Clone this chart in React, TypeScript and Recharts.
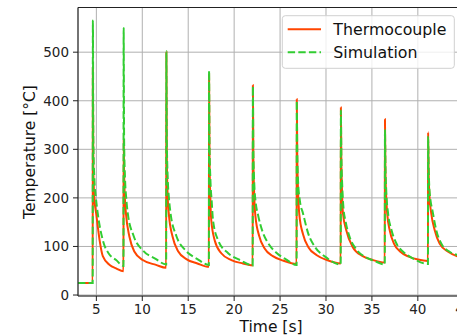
import { LineChart, Line, XAxis, YAxis, CartesianGrid, ReferenceLine } from 'recharts';

// time [s], temperature [°C]
const thermocouple: [number, number][] = [
  [3, 25], [4.6, 25],
  [4.62, 470], [4.67, 260], [4.78, 200], [5.0, 165], [5.35, 113], [5.7, 80], [6.45, 62], [7.15, 55], [7.95, 49],
  [7.97, 320], [8.02, 250], [8.1, 200], [8.22, 168], [8.6, 120], [9.15, 89], [10.05, 72], [11.5, 62], [12.6, 56],
  [12.62, 500], [12.67, 280], [12.75, 210], [12.9, 165], [13.3, 120], [13.9, 90], [14.8, 74], [16.0, 65], [17.25, 58],
  [17.27, 455], [17.32, 280], [17.4, 205], [17.51, 154], [17.88, 113], [18.6, 86], [19.7, 72], [20.95, 65], [22.02, 61],
  [22.04, 432], [22.09, 290], [22.17, 215], [22.32, 162], [22.72, 122], [23.32, 96], [24.22, 80], [25.32, 71], [26.8, 64],
  [26.82, 403], [26.87, 290], [26.95, 220], [27.1, 165], [27.5, 125], [28.1, 98], [29.0, 82], [30.1, 72], [31.6, 65],
  [31.62, 386], [31.67, 280], [31.75, 210], [31.85, 168], [32.2, 134], [32.9, 99], [34.0, 80], [35.1, 72], [36.4, 67],
  [36.42, 362], [36.47, 260], [36.55, 205], [36.68, 165], [36.95, 132], [37.4, 106], [38.1, 89], [39.0, 79], [40.0, 73], [41.1, 70],
  [41.12, 335], [41.17, 260], [41.26, 205], [41.46, 168], [41.83, 134], [42.37, 106], [43.3, 89], [44.4, 79], [45.5, 74],
];

const simulation: [number, number][] = [
  [3, 25], [4.6, 25],
  [4.62, 565], [4.67, 320], [4.78, 240], [4.95, 200], [5.15, 168], [5.7, 113], [6.4, 84], [7.15, 72], [7.95, 60],
  [7.97, 550], [8.02, 320], [8.12, 240], [8.25, 200], [8.42, 168], [9.05, 122], [10.1, 91], [11.4, 75], [12.6, 63],
  [12.62, 502], [12.67, 320], [12.77, 240], [12.9, 200], [13.08, 168], [13.7, 122], [14.7, 92], [16.0, 74], [17.25, 62],
  [17.27, 462], [17.32, 310], [17.42, 235], [17.55, 195], [17.7, 154], [18.25, 113], [19.35, 86], [20.65, 72], [22.02, 61],
  [22.04, 430], [22.09, 300], [22.19, 230], [22.35, 190], [22.6, 165], [23.1, 130], [23.8, 104], [24.6, 87], [25.6, 74], [26.8, 62],
  [26.82, 400], [26.87, 300], [26.97, 230], [27.15, 195], [27.5, 168], [28.06, 127], [28.8, 99], [29.9, 79], [31.6, 63],
  [31.62, 380], [31.67, 290], [31.77, 225], [31.9, 180], [32.15, 150], [32.6, 118], [33.3, 94], [34.3, 78], [35.3, 70], [36.4, 63],
  [36.42, 340], [36.47, 270], [36.56, 215], [36.76, 168], [37.13, 134], [37.67, 106], [38.4, 89], [39.5, 75], [41.1, 64],
  [41.12, 326], [41.17, 270], [41.27, 215], [41.65, 168], [42.0, 134], [42.55, 106], [43.46, 89], [44.4, 82], [45.5, 76],
];

const xTicks = [5, 10, 15, 20, 25, 30, 35, 40, 45];
const yTicks = [0, 100, 200, 300, 400, 500];

const FONT = '"DejaVu Sans", sans-serif';
const ORANGE = '#ff4500';
const GREEN = '#32cd32';

const toRows = (pts: [number, number][]) => pts.map(([t, v]) => ({ t, v }));

export default function App() {
  const tickStyle = { fontFamily: FONT, fontSize: 13.5, fill: '#222' };
  return (
    <div style={{ position: 'absolute', left: 0, top: 0, width: 457, height: 336, overflow: 'hidden', background: '#fff' }}>
      <LineChart width={480} height={336} margin={{ top: 7.5, right: 14.4, bottom: 0, left: 0 }}>
        <CartesianGrid stroke="#b0b0b0" strokeWidth={1} />
        <XAxis
          type="number"
          dataKey="t"
          domain={[3, 45.2]}
          ticks={xTicks}
          allowDataOverflow
          height={40}
          tick={tickStyle}
          tickSize={5}
          tickMargin={3}
          axisLine={{ stroke: '#222', strokeWidth: 1.1 }}
          tickLine={{ stroke: '#222' }}
        />
        <YAxis
          type="number"
          dataKey="v"
          domain={[-2, 592]}
          ticks={yTicks}
          allowDataOverflow
          width={78}
          tick={tickStyle}
          tickSize={5}
          tickMargin={4}
          axisLine={{ stroke: '#222', strokeWidth: 1.1 }}
          tickLine={{ stroke: '#222' }}
        />
        <ReferenceLine y={592} stroke="#222" strokeWidth={1.1} />
        <Line
          data={toRows(thermocouple)}
          dataKey="v"
          type="monotone"
          stroke={ORANGE}
          strokeWidth={2}
          dot={false}
          activeDot={false}
          isAnimationActive={false}
        />
        <Line
          data={toRows(simulation)}
          dataKey="v"
          type="monotone"
          stroke={GREEN}
          strokeWidth={2}
          strokeDasharray="7.4 3.2"
          dot={false}
          activeDot={false}
          isAnimationActive={false}
        />
      </LineChart>
      <svg width={457} height={336} style={{ position: 'absolute', left: 0, top: 0, pointerEvents: 'none' }}>
        <text
          transform="translate(34.6,152) rotate(-90)"
          textAnchor="middle"
          fontFamily={FONT}
          fontSize={15.5}
          fill="#111"
        >
          Temperature [°C]
        </text>
        <text x={271} y={332.3} textAnchor="middle" fontFamily={FONT} fontSize={15.5} fill="#111">
          Time [s]
        </text>
        <rect x={282.3} y={15.7} width={172} height={52.6} rx={3} fill="rgba(255,255,255,0.8)" stroke="#d0d0d0" strokeWidth={1} />
        <line x1={287.7} y1={29.3} x2={321} y2={29.3} stroke={ORANGE} strokeWidth={2} />
        <line x1={287.7} y1={52.3} x2={321} y2={52.3} stroke={GREEN} strokeWidth={2} strokeDasharray="7.4 3.2" />
        <text x={333.3} y={35} fontFamily={FONT} fontSize={15.8} fill="#111">Thermocouple</text>
        <text x={333.3} y={58.3} fontFamily={FONT} fontSize={15.8} fill="#111">Simulation</text>
      </svg>
    </div>
  );
}
